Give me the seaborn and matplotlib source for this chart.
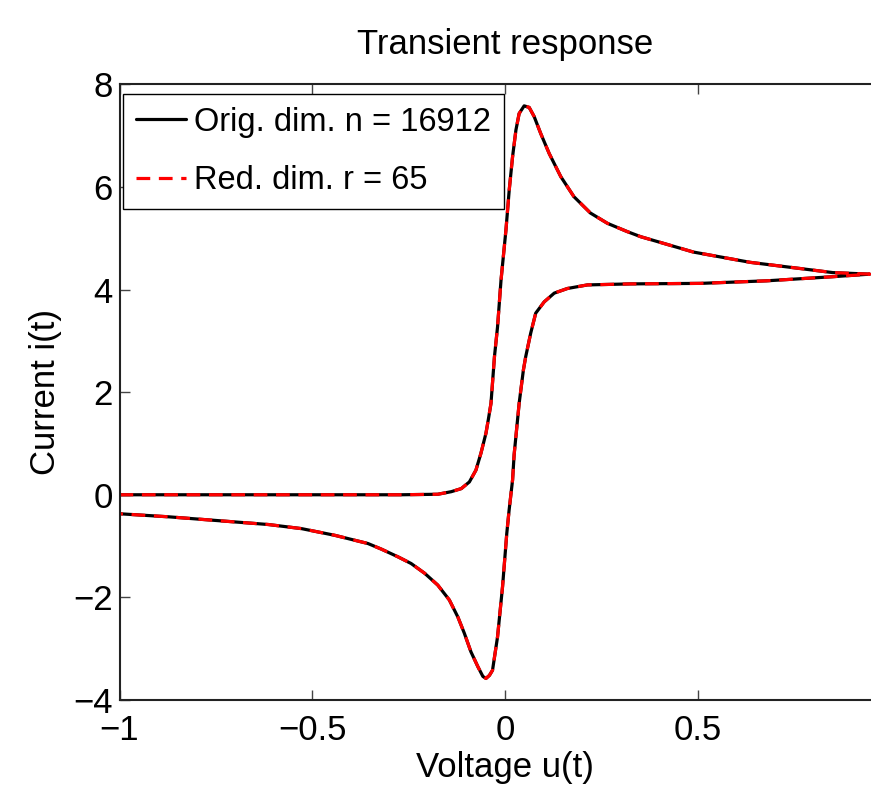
#!/usr/bin/env python3
#
# Transient response: original vs reduced model (cyclic sweep)
#
import numpy as np
import pandas as pd
import matplotlib
matplotlib.use('Agg')
import matplotlib.pyplot as plt
import seaborn as sns

# Forward sweep (voltage increasing)
fwd_v = [-1.0, -0.6, -0.27, -0.175, -0.140, -0.114, -0.093, -0.076, -0.063,
         -0.050, -0.044, -0.037, -0.028, -0.020, -0.011, 0.0018, 0.0103,
         0.019, 0.0277, 0.036, 0.049, 0.062, 0.075, 0.092, 0.114, 0.144,
         0.178, 0.221, 0.265, 0.316, 0.351, 0.488, 0.635, 0.764, 0.849,
         0.945]
fwd_i = [0.0, 0.0, 0.0, 0.01, 0.06, 0.12, 0.25, 0.48, 0.81,
         1.20, 1.46, 1.78, 2.69, 3.27, 4.18, 5.16, 5.94,
         6.59, 7.11, 7.43, 7.58, 7.55, 7.37, 7.04, 6.65, 6.20,
         5.81, 5.49, 5.29, 5.13, 5.03, 4.73, 4.53, 4.41, 4.33,
         4.30]

# Reverse sweep (voltage decreasing)
rev_v = [0.945, 0.849, 0.678, 0.506, 0.325, 0.213, 0.161, 0.127, 0.101,
         0.079, 0.066, 0.053, 0.047, 0.036, 0.023, 0.019, 0.010, 0.004,
         -0.007, -0.020, -0.033, -0.041, -0.050, -0.058, -0.071, -0.089,
         -0.106, -0.123, -0.145, -0.175, -0.209, -0.244, -0.278, -0.321,
         -0.356, -0.442, -0.528, -0.614, -0.700, -0.786, -0.872, -1.0]
rev_i = [4.30, 4.25, 4.17, 4.12, 4.11, 4.09, 4.02, 3.93, 3.76,
         3.54, 3.15, 2.69, 2.43, 1.78, 0.78, 0.29, -0.30, -0.75,
         -1.79, -2.77, -3.42, -3.52, -3.58, -3.54, -3.35, -3.06,
         -2.70, -2.38, -2.05, -1.76, -1.53, -1.34, -1.21, -1.06,
         -0.95, -0.79, -0.66, -0.58, -0.53, -0.48, -0.43, -0.37]

labels = ['Orig. dim. n = 16912', 'Red. dim. r = 65']

sns.set_theme(style='ticks')
plt.rcParams['font.family'] = ['Liberation Sans', 'DejaVu Sans']
plt.rcParams['font.size'] = 25
plt.rcParams['text.color'] = 'black'
plt.rcParams['axes.unicode_minus'] = True

v = np.concatenate([fwd_v, rev_v])
i = np.concatenate([fwd_i, rev_i])
n = len(v)
df = pd.DataFrame({
    'u': np.concatenate([v, v]),
    'i': np.concatenate([i, i]),
    'model': [labels[0]] * n + [labels[1]] * n,
})

fig = plt.figure(figsize=(8.71, 7.91), dpi=100)
# axes run past the right edge of the figure, as in the reference
ax = fig.add_axes([119.5 / 871, 1 - 700 / 791, 771.5 / 871, 615.7 / 791])

sns.lineplot(
    data=df, x='u', y='i', hue='model', style='model',
    palette={labels[0]: 'black', labels[1]: 'red'},
    dashes={labels[0]: '', labels[1]: (4.3, 2.7)},
    sort=False, estimator=None, linewidth=2.3, ax=ax)

ax.set_xlim(-1, 1)
ax.set_ylim(-4, 8)
ax.set_xticks([-1, -0.5, 0, 0.5])
ax.set_xticklabels(['\u22121', '\u22120.5', '0', '0.5'])
ax.set_yticks([-4, -2, 0, 2, 4, 6, 8])
ax.set_yticklabels(['\u22124', '\u22122', '0', '2', '4', '6', '8'])
ax.tick_params(direction='in', length=7, width=1, colors='#444444',
               labelcolor='black', labelsize=25, top=True, right=True)
ax.tick_params(axis='x', pad=10)
ax.tick_params(axis='y', pad=5)
for side in ax.spines.values():
    side.set_linewidth(1.5)
    side.set_color('#222222')

ax.set_title('Transient response', fontsize=25, pad=22, color='black')
ax.set_xlabel('Voltage u(t)', fontsize=25, labelpad=3, color='black')
ax.set_ylabel('Current i(t)', fontsize=25, labelpad=8, color='black')

handles, labs = ax.get_legend_handles_labels()
leg = ax.legend(handles, labs, loc='upper left', fontsize=23.5,
                bbox_to_anchor=(0.004, 0.985), borderaxespad=0,
                handlelength=1.55, handletextpad=0.25, borderpad=0.4,
                labelspacing=0.85, fancybox=False, framealpha=1,
                edgecolor='black')
leg.get_frame().set_linewidth(1.0)
for t in leg.get_texts():
    t.set_color('black')

fig.savefig('out.png', dpi=100)
